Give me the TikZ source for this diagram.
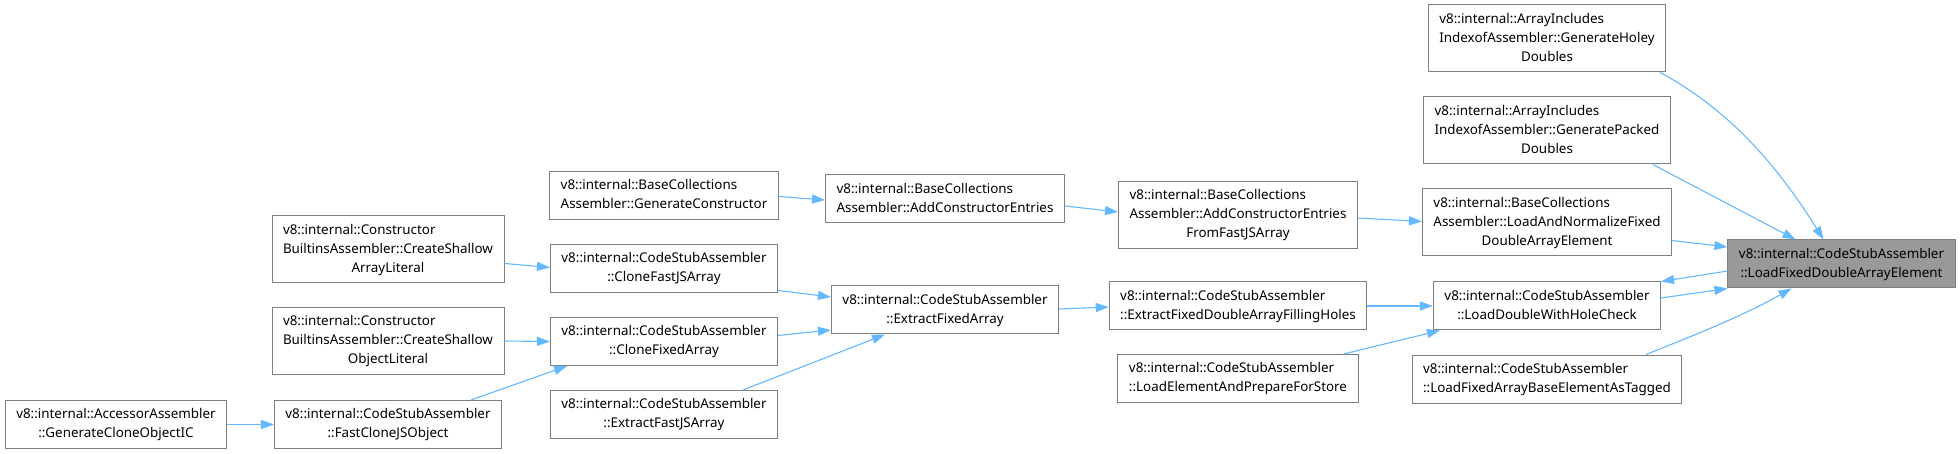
\documentclass[tikz,border=0pt]{standalone}
\usepackage{fontspec}
\usetikzlibrary{arrows.meta}
\newfontfamily\fnfont{Noto Sans}
\definecolor{edgeblue}{HTML}{63B8FF}
\definecolor{boxgray}{HTML}{7F7F7F}
\definecolor{rootgray}{HTML}{999999}
\newcommand{\fnlabel}[2]{\begin{tabular}{@{}l@{}}#1\\\multicolumn{1}{@{}c@{}}{#2}\end{tabular}}
\tikzset{>={Triangle[length=13pt,width=9pt]},
  fn/.style={draw=boxgray, line width=1pt, fill=white, inner xsep=11pt, inner ysep=5pt,
    font=\fnfont\fontsize{13.4}{19}\selectfont},
  root/.style={fn, fill=rootgray},
  call/.style={->, draw=edgeblue, line width=1.1pt}}

\begin{document}
\begin{tikzpicture}[x=1pt,y=-1pt]
  \useasboundingbox (0,0) rectangle (1960,454);
  \node[fn] (hol) at (1547,38.5) {\fnlabel{v8::internal::ArrayIncludes\\IndexofAssembler::GenerateHoley}{Doubles}};
  \node[fn] (pck) at (1547,130.5) {\fnlabel{v8::internal::ArrayIncludes\\IndexofAssembler::GeneratePacked}{Doubles}};
  \node[fn] (nrm) at (1547,222.5) {\fnlabel{v8::internal::BaseCollections\\Assembler::LoadAndNormalizeFixed}{DoubleArrayElement}};
  \node[root] (ldf) at (1841.5,264) {\fnlabel{v8::internal::CodeStubAssembler}{::LoadFixedDoubleArrayElement}};
  \node[fn] (hck) at (1547,306) {\fnlabel{v8::internal::CodeStubAssembler}{::LoadDoubleWithHoleCheck}};
  \node[fn] (tag) at (1547,379) {\fnlabel{v8::internal::CodeStubAssembler}{::LoadFixedArrayBaseElementAsTagged}};
  \node[fn] (acf) at (1238,215) {\fnlabel{v8::internal::BaseCollections\\Assembler::AddConstructorEntries}{FromFastJSArray}};
  \node[fn] (efh) at (1238,306) {\fnlabel{v8::internal::CodeStubAssembler}{::ExtractFixedDoubleArrayFillingHoles}};
  \node[fn] (lep) at (1238,378.5) {\fnlabel{v8::internal::CodeStubAssembler}{::LoadElementAndPrepareForStore}};
  \node[fn] (ace) at (945,199) {\fnlabel{v8::internal::BaseCollections}{Assembler::AddConstructorEntries}};
  \node[fn] (efa) at (945,310) {\fnlabel{v8::internal::CodeStubAssembler}{::ExtractFixedArray}};
  \node[fn] (gen) at (664,195.5) {\fnlabel{v8::internal::BaseCollections}{Assembler::GenerateConstructor}};
  \node[fn] (cfj) at (664,268.5) {\fnlabel{v8::internal::CodeStubAssembler}{::CloneFastJSArray}};
  \node[fn] (cfa) at (664,341.5) {\fnlabel{v8::internal::CodeStubAssembler}{::CloneFixedArray}};
  \node[fn] (efj) at (664,414.5) {\fnlabel{v8::internal::CodeStubAssembler}{::ExtractFastJSArray}};
  \node[fn] (csa) at (388,249.5) {\fnlabel{v8::internal::Constructor\\BuiltinsAssembler::CreateShallow}{ArrayLiteral}};
  \node[fn] (cso) at (388,341) {\fnlabel{v8::internal::Constructor\\BuiltinsAssembler::CreateShallow}{ObjectLiteral}};
  \node[fn] (fco) at (388,424.5) {\fnlabel{v8::internal::CodeStubAssembler}{::FastCloneJSObject}};
  \node[fn] (gci) at (116,424.5) {\fnlabel{v8::internal::AccessorAssembler}{::GenerateCloneObjectIC}};

  \draw[call] ([xshift=-6pt]hol.south east) .. controls +(61,33) and +(-53,-85) .. ([xshift=-18pt]ldf.north);
  \draw[call] ([xshift=-18pt]pck.south east) -- ([xshift=-46pt]ldf.north);
  \draw[call] ([yshift=-18pt]nrm.east) -- ([yshift=17pt]ldf.west);
  \draw[call] ([yshift=-7pt]ldf.west) -- (hck.north east);
  \draw[call] ([yshift=8pt]hck.east) -- (ldf.south west);
  \draw[call] ([xshift=99pt]tag.north) .. controls +(50,-20) and +(-50,28) .. ([xshift=-50pt]ldf.south);
  \draw[call] ([yshift=-3pt]acf.east) -- ([yshift=1pt]nrm.west);
  \draw[call] (efh.east) -- (hck.west);
  \draw[call] ([xshift=-15pt]lep.north east) -- ([xshift=7pt]hck.south west);
  \draw[call] ([yshift=-7pt]ace.east) -- ([yshift=3pt]acf.west);
  \draw[call] ([yshift=1pt]efa.east) -- ([yshift=-1pt]efh.west);
  \draw[call] ([yshift=-1pt]gen.east) -- ([yshift=-1pt]ace.west);
  \draw[call] ([yshift=-22pt]cfj.east) -- ([yshift=13pt]efa.west);
  \draw[call] ([yshift=6pt]cfa.east) -- ([yshift=-20pt]efa.west);
  \draw[call] ([xshift=79pt]efj.north) -- ([xshift=-60pt]efa.south);
  \draw[call] ([yshift=-14pt]csa.east) -- ([yshift=1pt]cfj.west);
  \draw[call] (cso.east) -- (cfa.west);
  \draw[call] ([xshift=83pt]fco.north) -- ([xshift=-97pt]cfa.south);
  \draw[call] (gci.east) -- (fco.west);
\end{tikzpicture}
\end{document}
